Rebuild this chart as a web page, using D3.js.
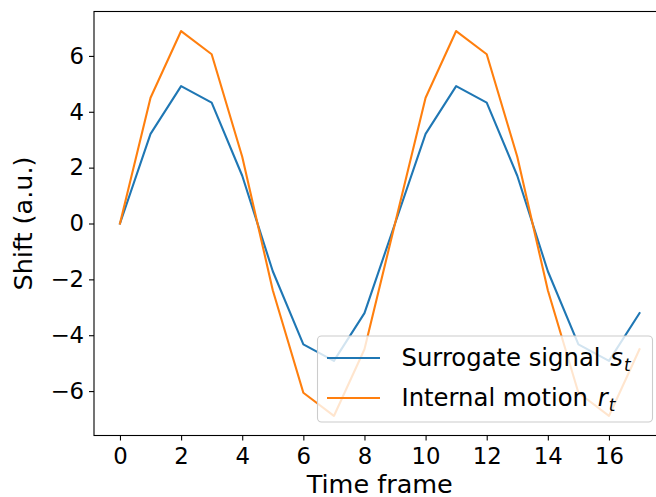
<!DOCTYPE html>
<html>
<head>
<meta charset="utf-8">
<script src="https://cdn.jsdelivr.net/npm/d3@7"></script>
<style>
  body { margin: 0; background: #fff; }
  svg { display: block; font-family: "DejaVu Sans", sans-serif; }
</style>
</head>
<body>
<svg id="chart" width="656" height="497"></svg>
<script>
const frames = [0,1,2,3,4,5,6,7,8,9,10,11,12,13,14,15,16,17];
const surrogate = [0, 3.21, 4.92, 4.33, 1.71, -1.71, -4.33, -4.92, -3.21, 0, 3.21, 4.92, 4.33, 1.71, -1.71, -4.33, -4.92, -3.21];
const internal = [0, 4.50, 6.89, 6.06, 2.39, -2.39, -6.06, -6.89, -4.50, 0, 4.50, 6.89, 6.06, 2.39, -2.39, -6.06, -6.89, -4.50];
const xTicks = [0,2,4,6,8,10,12,14,16];
const yTicks = [-6,-4,-2,0,2,4,6];
const seriesNames = ["Surrogate signal", "Internal motion"];
const seriesSymbols = ["s", "r"];
const colors = ["#1f77b4", "#ff7f0e"];

(function () {
const svg = d3.select("#chart");
const pLeft = 94, pRight = 665.5, pTop = 11.5, pBottom = 435.5;
const x = d3.scaleLinear().domain([-0.85, 17.85]).range([pLeft, pRight]);
const y = d3.scaleLinear().domain([-7.59, 7.59]).range([pBottom, pTop]);

const tickFs = 22.8, labelFs = 25.5, legendFs = 24.3;

// lines
const line = d3.line().x((d, i) => x(frames[i])).y(d => y(d));
[surrogate, internal].forEach((s, k) => {
  svg.append("path").datum(s)
    .attr("d", line)
    .attr("fill", "none")
    .attr("stroke", colors[k])
    .attr("stroke-width", 2.1)
    .attr("stroke-linejoin", "round")
    .attr("stroke-linecap", "square");
});

// axes
const xAxis = d3.axisBottom(x).tickValues(xTicks).tickSize(5).tickPadding(7).tickFormat(d3.format("d"));
const yAxis = d3.axisLeft(y).tickValues(yTicks).tickSize(5).tickPadding(5)
  .tickFormat(d => d < 0 ? "\u2212" + Math.abs(d) : String(d));

const gx = svg.append("g").attr("transform", `translate(0,${pBottom})`).call(xAxis);
const gy = svg.append("g").attr("transform", `translate(${pLeft},0)`).call(yAxis);
[gx, gy].forEach(g => {
  g.select(".domain").remove();
  g.selectAll("line").attr("stroke", "#000").attr("stroke-width", 1.1);
  g.selectAll("text").attr("font-size", tickFs).attr("fill", "#000").attr("font-family", "DejaVu Sans");
});

// frame
svg.append("rect").attr("x", pLeft).attr("y", pTop)
  .attr("width", pRight - pLeft).attr("height", pBottom - pTop)
  .attr("fill", "none").attr("stroke", "#000").attr("stroke-width", 1.1);

// axis labels
svg.append("text").attr("x", (pLeft + pRight) / 2).attr("y", 493)
  .attr("text-anchor", "middle").attr("font-size", labelFs).text("Time frame");
svg.append("text").attr("transform", `translate(32,${(pTop + pBottom) / 2}) rotate(-90)`)
  .attr("text-anchor", "middle").attr("font-size", labelFs).text("Shift (a.u.)");

// legend
const lg = svg.append("g");
lg.append("rect").attr("x", 317.5).attr("y", 336).attr("width", 335).attr("height", 86)
  .attr("rx", 4).attr("fill", "#fff").attr("fill-opacity", 0.8)
  .attr("stroke", "#cccccc").attr("stroke-width", 1.1);
seriesNames.forEach((name, k) => {
  const yy = 358 + k * 40;
  lg.append("line").attr("x1", 327).attr("x2", 380).attr("y1", yy).attr("y2", yy)
    .attr("stroke", colors[k]).attr("stroke-width", 2.1);
  const t = lg.append("text").attr("x", 401.5).attr("y", yy + 8).attr("font-size", legendFs).attr("fill", "#000");
  t.append("tspan").text(name + " ");
  t.append("tspan").attr("font-style", "italic").attr("dx", 2).text(seriesSymbols[k]);
  t.append("tspan").attr("font-style", "italic").attr("font-size", legendFs * 0.7).attr("dy", 5).attr("dx", 1).text("t");
});
})();
</script>
</body>
</html>
